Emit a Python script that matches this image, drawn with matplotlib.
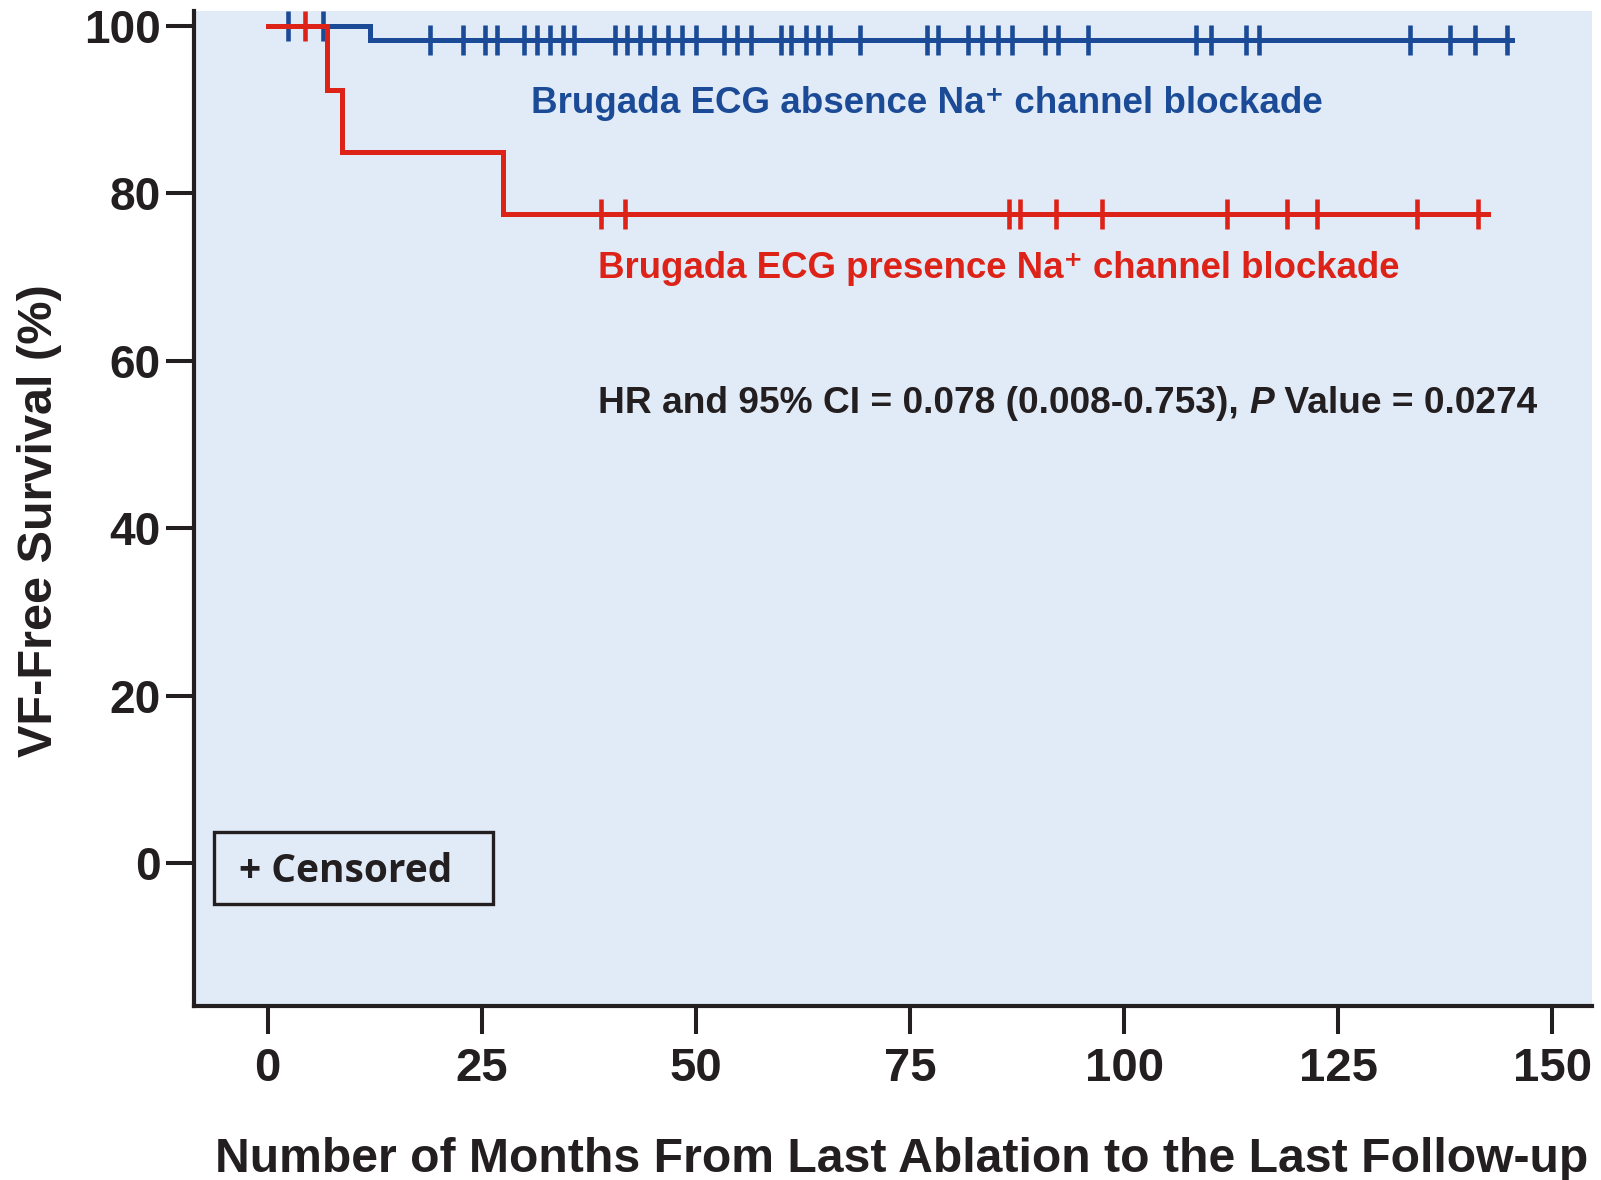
import numpy as np
import matplotlib
matplotlib.use("Agg")
import matplotlib.pyplot as plt
from matplotlib.patches import Rectangle

# ---- data ----
x_ticks = [0, 25, 50, 75, 100, 125, 150]
y_ticks = [0, 20, 40, 60, 80, 100]

blue_step_x = [0, 12.0, 145.3]
blue_step_y = [100, 98.3, 98.3]
blue_censor = [2.4, 6.5, 18.9, 22.8, 25.4, 26.8, 29.9, 31.4, 33.0, 34.5, 35.8,
               40.6, 42.0, 43.5, 45.1, 46.8, 48.4, 50.0, 53.3, 54.8, 56.4,
               59.9, 61.1, 62.8, 64.2, 65.7, 69.2, 77.0, 78.3, 81.8, 83.4,
               85.3, 86.9, 90.8, 92.3, 95.8, 108.4, 110.1, 114.2, 115.7,
               133.4, 138.1, 141.0, 144.7]

red_step_x = [0, 6.9, 8.7, 27.5, 142.5]
red_step_y = [100, 92.3, 85.0, 77.6, 77.6]
red_censor = [4.3, 38.9, 41.7, 86.6, 87.8, 92.0, 97.4, 112.0, 119.0, 122.5,
              134.2, 141.3]

blue_label = "Brugada ECG absence Na\u207a channel blockade"
red_label = "Brugada ECG presence Na\u207a channel blockade"
hr_text_a = "HR and 95% CI = 0.078 (0.008-0.753), "
hr_text_p = "P"
hr_text_b = " Value = 0.0274"
x_label = "Number of Months From Last Ablation to the Last Follow-up"
y_label = "VF-Free Survival (%)"
censor_text = "+ Censored"

BLUE = "#1b4b96"
RED = "#dd2218"
BG = "#e1eaf7"
INK = "#231f20"

def step_value(xs, ys, t):
    idx = np.searchsorted(xs, t, side="right") - 1
    return np.asarray(ys)[idx]

fig = plt.figure(figsize=(16.01, 11.80), dpi=100)
ax = fig.add_axes([0.1212, 0.1477, 0.9942 - 0.1212, 0.9907 - 0.1477])
ax.set_facecolor(BG)
ax.set_xlim(-8.6, 154.6)
ax.set_ylim(-17.05, 101.8)

lw = 3.6
ax.step(blue_step_x, blue_step_y, where="post", color=BLUE, lw=lw, zorder=3,
        solid_joinstyle="miter")
ax.step(red_step_x, red_step_y, where="post", color=RED, lw=lw, zorder=4,
        solid_joinstyle="miter")
ax.plot(blue_censor, step_value(blue_step_x, blue_step_y, blue_censor), ls="none",
        marker="|", ms=21, mew=3.3, color=BLUE, zorder=3)
ax.plot(red_censor, step_value(red_step_x, red_step_y, red_censor), ls="none",
        marker="|", ms=21, mew=3.3, color=RED, zorder=4)

for s in ["top", "right"]:
    ax.spines[s].set_visible(False)
for s in ["left", "bottom"]:
    ax.spines[s].set_linewidth(3.0)
    ax.spines[s].set_color(INK)

ax.set_xticks(x_ticks)
ax.set_yticks(y_ticks)
ax.tick_params(axis="both", length=20, width=2.9, color=INK, direction="out")
ax.tick_params(axis="x", pad=10)
ax.tick_params(axis="y", pad=4)
for lab in ax.get_xticklabels():
    lab.set_family(["Liberation Sans Narrow", "Liberation Sans", "DejaVu Sans"])
    lab.set_fontweight("bold")
    lab.set_fontsize(34)
    lab.set_color(INK)
for lab in ax.get_yticklabels():
    lab.set_family(["Liberation Sans", "DejaVu Sans"])
    lab.set_fontweight("heavy")
    lab.set_fontsize(33)
    lab.set_color(INK)

fig.text(902 / 1601, 1 - 1160 / 1180, x_label, ha="center", va="center",
         fontsize=34.7, fontweight="bold", color=INK,
         family=["Liberation Sans Narrow", "Liberation Sans", "DejaVu Sans"])
fig.text(40 / 1601, 1 - 521 / 1180, y_label, ha="center", va="center",
         rotation=90, fontsize=35, fontweight="bold", color=INK,
         family=["Liberation Sans", "DejaVu Sans"])

tfam = ["Liberation Sans Narrow", "Liberation Sans", "DejaVu Sans"]
ax.text(30.8, 90.8, blue_label, color=BLUE, fontsize=26.5, fontweight="bold",
        ha="left", va="center", family=tfam)
ax.text(38.6, 71.0, red_label, color=RED, fontsize=26.4, fontweight="bold",
        ha="left", va="center", family=tfam)

t1 = ax.text(38.6, 54.9, hr_text_a, color=INK, fontsize=26.7, fontweight="bold",
             ha="left", va="center", family=tfam)
t2 = ax.annotate(hr_text_p, xy=(1, 0.5), xycoords=t1, ha="left", va="center",
                 color=INK, fontsize=26.7, fontweight="bold", style="italic",
                 family=tfam)
t3 = ax.annotate(hr_text_b, xy=(1, 0.5), xycoords=t2, ha="left", va="center",
                 color=INK, fontsize=26.7, fontweight="bold", family=tfam)

ax.add_patch(Rectangle((-6.3, -4.85), 32.6, 8.55, fill=False, lw=2.4,
                       edgecolor=INK, zorder=5))
ax.text(-3.4, -1.0, censor_text, color=INK, fontsize=28, fontweight="bold",
        ha="left", va="center", family=["Open Sans", "DejaVu Sans"])

fig.savefig("out.png", dpi=100)
